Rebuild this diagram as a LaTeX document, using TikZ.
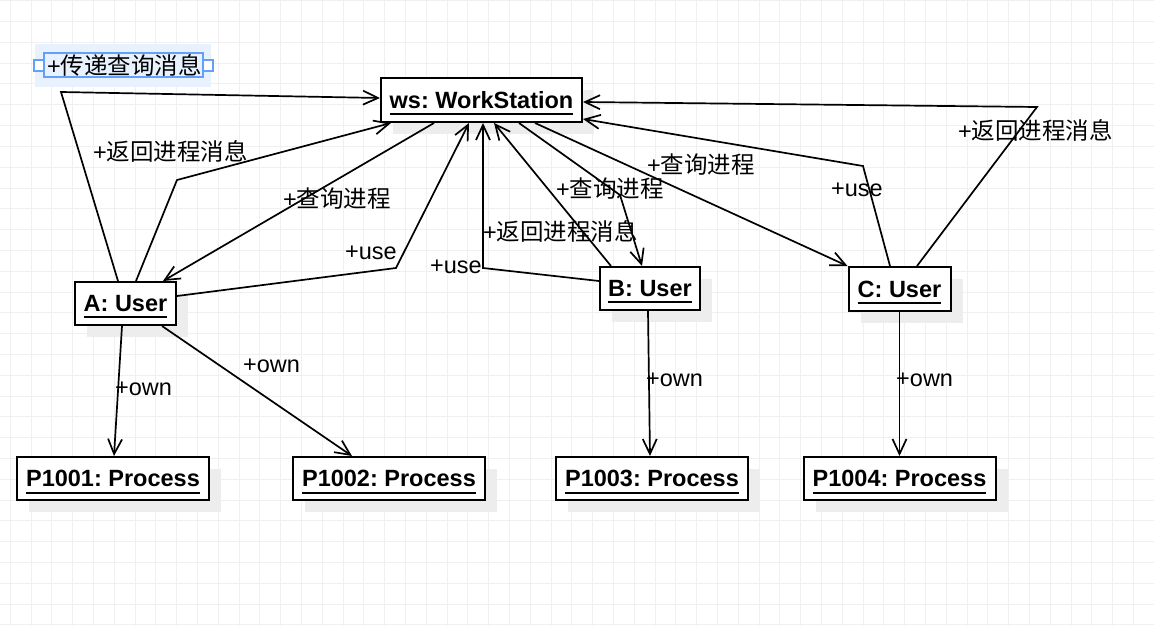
\documentclass[tikz,border=0pt]{standalone}
\usepackage{fontspec}
\setmainfont{Liberation Sans}
\newfontfamily\cjk{Noto Sans CJK SC}
\usetikzlibrary{arrows.meta,shadows,calc}
\frenchspacing
\newcommand\zh[1]{{\cjk #1}}
\newcommand\objul[1]{\setbox0=\hbox{#1}\copy0\kern-\wd0\raisebox{-7pt}[0pt][0pt]{\rule{\wd0}{2pt}}}
\definecolor{selbg}{RGB}{232,242,255}
\definecolor{selfr}{RGB}{100,160,250}
\begin{document}
\begin{tikzpicture}[x=1pt,y=-1pt,
  obj/.style={draw=black,line width=2pt,fill=white,inner sep=0pt,
    font=\bfseries\fontsize{23.5}{28}\selectfont,
    drop shadow={shadow xshift=12pt,shadow yshift=-12pt,fill=black!7,opacity=1}},
  lbl/.style={inner sep=0pt,anchor=west,font=\fontsize{23.5}{28}\selectfont},
  link/.style={draw=black,line width=1.7pt,-{Straight Barb[length=15pt,width=14pt]}},
  gridc/.style={draw=black!6,line width=1pt}]
\path[use as bounding box] (0,0) rectangle (1154,626);
\fill[white] (0,0) rectangle (1154,626);
\foreach \i in {0,...,55} {\draw[gridc] ({10.2+20.8*\i},0) -- ++(0,626);}
\foreach \j in {0,...,30} {\draw[gridc] (0,{0.8+20.8*\j}) -- ++(1154,0);}
% selection highlight
\fill[selbg] (35,44) rectangle (211,87);
\draw[selfr,line width=1.5pt] (44,53) rectangle (203,77);
\draw[selfr,line width=1.2pt,fill=white] (34,60) rectangle (44,71);
\draw[selfr,line width=1.2pt,fill=white] (203,60) rectangle (213,71);
% nodes
\node[obj,minimum width=201pt,minimum height=44pt] (ws) at (481.5,100) {\objul{ws: WorkStation}};
\node[obj,minimum width=101pt,minimum height=43pt] (A) at (125.5,303.5) {\objul{A: User}};
\node[obj,minimum width=100pt,minimum height=43pt] (B) at (650,288.5) {\objul{B: User}};
\node[obj,minimum width=102pt,minimum height=44pt] (C) at (899.5,289) {\objul{C: User}};
\node[obj,minimum width=192pt,minimum height=43pt] (P1) at (113,478.5) {\objul{P1001: Process}};
\node[obj,minimum width=192pt,minimum height=43pt] (P2) at (389,478.5) {\objul{P1002: Process}};
\node[obj,minimum width=192pt,minimum height=43pt] (P3) at (652,478.5) {\objul{P1003: Process}};
\node[obj,minimum width=192pt,minimum height=43pt] (P4) at (899.5,478.5) {\objul{P1004: Process}};
% bend points
\coordinate (b1) at (61,92);
\coordinate (b2) at (177,180);
\coordinate (b4) at (396,268);
\coordinate (b5) at (483,268);
\coordinate (b7) at (620,195);
\coordinate (b9) at (863,166);
\coordinate (b10) at (1037,107);
% connectors
\draw[link] ([xshift=-7.5pt]A.north) -- (b1) -- ([yshift=2pt]ws.west);
\draw[link] ([xshift=10.5pt]A.north) -- (b2) -- ([xshift=11pt]ws.south west);
\draw[link] ([xshift=-47.5pt]ws.south) -- ([xshift=37.5pt]A.north);
\draw[link] ([yshift=7.5pt]A.east) -- (b4) -- ([xshift=-12.5pt]ws.south);
\draw[link] ([yshift=7.5pt]B.west) -- (b5) -- ([xshift=1.5pt]ws.south);
\draw[link] ([xshift=-39pt]B.north) -- ([xshift=12.5pt]ws.south);
\draw[link] ([xshift=37.5pt]ws.south) -- (b7) -- ([xshift=-8pt]B.north);
\draw[link] ([xshift=53.5pt]ws.south) -- (C.north west);
\draw[link] ([xshift=-9.5pt]C.north) -- (b9) -- ([yshift=4pt]ws.south east);
\draw[link] ([xshift=17.5pt]C.north) -- (b10) -- ([yshift=-2pt]ws.east);
\draw[link] ([xshift=-3.5pt]A.south) -- ([xshift=1pt]P1.north);
\draw[link] ([xshift=36.5pt]A.south) -- ([xshift=-37pt]P2.north);
\draw[link] ([xshift=-2pt]B.south) -- ([xshift=-2pt]P3.north);
\draw[link] (C.south) -- (P4.north);
% labels
\node[lbl] (l1) at (47,65) {+\zh{传递查询消息}};
\node[lbl] (l2) at (93,151) {+\zh{返回进程消息}};
\node[lbl] (l3) at (283,199) {+\zh{查询进程}};
\node[lbl] (l4) at (345,253) {+use};
\node[lbl] (l5) at (430,267) {+use};
\node[lbl] (l6) at (483,231) {+\zh{返回进程消息}};
\node[lbl] (l7) at (556,189) {+\zh{查询进程}};
\node[lbl] (l8) at (647,165) {+\zh{查询进程}};
\node[lbl] (l9) at (831,190) {+use};
\node[lbl] (l10) at (958,130) {+\zh{返回进程消息}};
\node[lbl] (l11) at (115,389) {+own};
\node[lbl] (l12) at (243,366) {+own};
\node[lbl] (l13) at (646,380) {+own};
\node[lbl] (l14) at (896,380) {+own};
\end{tikzpicture}
\end{document}
